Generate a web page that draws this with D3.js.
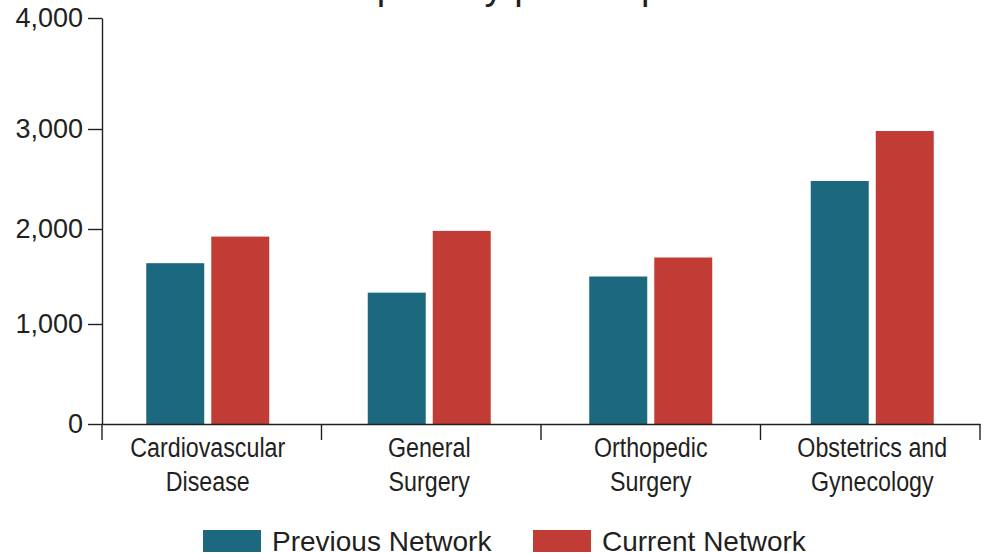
<!DOCTYPE html>
<html>
<head>
<meta charset="utf-8">
<script src="https://cdn.jsdelivr.net/npm/d3@7"></script>
<style>
  html, body { margin: 0; padding: 0; background: #fff; }
  svg { display: block; }
  text { fill: #231f20; }
</style>
</head>
<body>
<script>
// Specialties shown along the x axis, with the wrapped lines used for their labels
const categories = ["Cardiovascular Disease", "General Surgery", "Orthopedic Surgery", "Obstetrics and Gynecology"];
const categoryLines = [["Cardiovascular", "Disease"], ["General", "Surgery"], ["Orthopedic", "Surgery"], ["Obstetrics and", "Gynecology"]];

// The two networks being compared
const series = ["Previous Network", "Current Network"];
const seriesColors = ["#1c687f", "#c13c34"];

// Values per specialty
const previousNetwork = [1640, 1330, 1500, 2480];
const currentNetwork = [1920, 1980, 1700, 2980];

// Y axis tick values
const yTicks = [0, 1000, 2000, 3000, 4000];

const chartTitle = "Mean cost per day per hospital";

const W = 984, H = 553;
const svg = d3.select("body").append("svg").attr("width", W).attr("height", H);

// Category bands: one for the axis divisions, one for placing bar groups and labels
const xAxisBands = d3.scaleBand().domain(categories).range([102, 980]);
const x0 = d3.scaleBand().domain(categories).range([97, 983]);
const x1 = d3.scaleBand().domain(series).range([-61.5, 61.5]).paddingInner(0.108);
const y = d3.scaleLinear().domain(yTicks).range([424, 324, 229, 129, 18]);
const color = d3.scaleOrdinal().domain(series).range(seriesColors);

const rows = categories.map((c, i) => ({
  category: c,
  values: [
    { key: series[0], value: previousNetwork[i] },
    { key: series[1], value: currentNetwork[i] }
  ]
}));

// Title (sits mostly above the visible area)
svg.append("text")
  .attr("x", 191).attr("y", -1)
  .attr("font-family", "'Liberation Sans', Arial, sans-serif")
  .attr("font-size", 38)
  .text(chartTitle);

// Bars
const groups = svg.append("g").selectAll("g")
  .data(rows).join("g")
  .attr("transform", d => `translate(${x0(d.category) + x0.bandwidth() / 2},0)`);

groups.selectAll("rect")
  .data(d => d.values).join("rect")
  .attr("x", d => x1(d.key))
  .attr("width", x1.bandwidth())
  .attr("y", d => y(d.value))
  .attr("height", d => y(0) - y(d.value))
  .attr("fill", d => color(d.key));

// Y axis
const yAxis = svg.append("g")
  .attr("transform", `translate(${xAxisBands.range()[0]},0)`)
  .call(d3.axisLeft(y).tickValues(yTicks).tickFormat(d3.format(",")).tickSize(14).tickSizeOuter(0).tickPadding(5));
yAxis.selectAll("text")
  .attr("font-family", "'Liberation Sans', Arial, sans-serif")
  .attr("font-size", 27)
  .attr("fill", "#231f20");

// X axis line
const xAxis = svg.append("g")
  .attr("transform", `translate(0,${y(0)})`)
  .call(d3.axisBottom(xAxisBands).tickSize(0).tickSizeOuter(0).tickFormat(""));
xAxis.selectAll(".tick").remove();

// Boundary ticks between categories
const bounds = categories.map(c => xAxisBands(c)).concat([xAxisBands.range()[1]]);
xAxis.selectAll("line.bound")
  .data(bounds).join("line")
  .attr("class", "bound")
  .attr("x1", d => d).attr("x2", d => d)
  .attr("y1", 0).attr("y2", 16)
  .attr("stroke", "#231f20");

// Category labels, set in a condensed width
const labels = xAxis.selectAll("text.cat")
  .data(categories).join("text")
  .attr("class", "cat")
  .attr("transform", d => `translate(${x0(d) + x0.bandwidth() / 2},33) scale(0.83,1)`)
  .attr("text-anchor", "middle")
  .attr("font-family", "'Liberation Sans', Arial, sans-serif")
  .attr("font-size", 28)
  .attr("fill", "#231f20");
labels.selectAll("tspan")
  .data((d, i) => categoryLines[i]).join("tspan")
  .attr("x", 0)
  .attr("dy", (d, i) => i === 0 ? 0 : 34)
  .text(d => d);

svg.selectAll(".domain, .tick line").attr("stroke", "#231f20").attr("stroke-width", 1.4);
svg.selectAll("line.bound").attr("stroke-width", 1.4);

// Legend
const legendX = [203, 533];
const legend = svg.append("g").selectAll("g")
  .data(series).join("g")
  .attr("transform", (d, i) => `translate(${legendX[i]},530)`);
legend.append("rect")
  .attr("width", 58).attr("height", 22)
  .attr("fill", d => color(d));
legend.append("text")
  .attr("x", 69).attr("y", 21)
  .attr("font-family", "'Liberation Sans', Arial, sans-serif")
  .attr("font-size", 28)
  .text(d => d);
</script>
</body>
</html>
